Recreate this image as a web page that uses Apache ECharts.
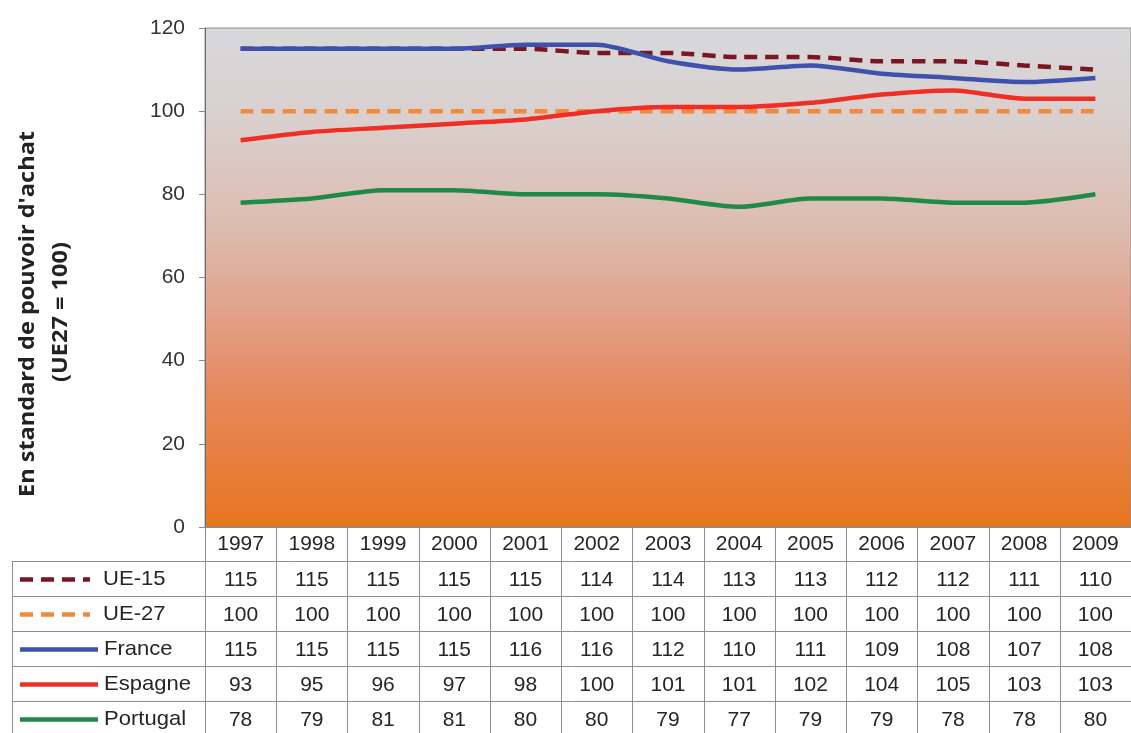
<!DOCTYPE html>
<html>
<head>
<meta charset="utf-8">
<script src="https://cdn.jsdelivr.net/npm/echarts@6/dist/echarts.min.js"></script>
<style>
  html, body { margin: 0; padding: 0; background: #ffffff; }
  #chart { width: 1131px; height: 733px; }
</style>
</head>
<body>
<div id="chart"></div>
<script>
// PIB par habitant en SPA (UE27 = 100)
const years    = ['1997','1998','1999','2000','2001','2002','2003','2004','2005','2006','2007','2008','2009'];
const ue15     = [115,115,115,115,115,114,114,113,113,112,112,111,110];
const ue27     = [100,100,100,100,100,100,100,100,100,100,100,100,100];
const france   = [115,115,115,115,116,116,112,110,111,109,108,107,108];
const espagne  = [93,95,96,97,98,100,101,101,102,104,105,103,103];
const portugal = [78,79,81,81,80,80,79,77,79,79,78,78,80];
const yTicks   = { min: 0, max: 120, interval: 20 };

const seriesDefs = [
  { name: 'UE-15',    data: ue15,     color: '#7c1522', dashed: true },
  { name: 'UE-27',    data: ue27,     color: '#f28a3a', dashed: true },
  { name: 'France',   data: france,   color: '#3e51ad', dashed: false },
  { name: 'Espagne',  data: espagne,  color: '#ee2f26', dashed: false },
  { name: 'Portugal', data: portugal, color: '#1f8a47', dashed: false }
];

const FONT = '"Liberation Sans", Arial, sans-serif';
const FS = 21;
const GRID = { left: 205, top: 28, width: 931, height: 499 };
const ROW_H = 35;
const TABLE_LEFT = 12;

const chart = echarts.init(document.getElementById('chart'), null, { renderer: 'canvas' });

// one x axis for the year header, then one per table row (offset downwards)
const xAxes = [{
  type: 'category',
  data: years,
  boundaryGap: true,
  position: 'bottom',
  axisLine: { show: true, lineStyle: { color: '#8a8a8a', width: 1 } },
  axisTick: { show: false },
  axisLabel: { margin: 7, fontFamily: FONT, fontSize: FS, color: '#262626' }
}];
seriesDefs.forEach((s, k) => {
  xAxes.push({
    type: 'category',
    data: years,
    boundaryGap: true,
    position: 'bottom',
    offset: ROW_H * (k + 1),
    axisLine: { show: false },
    axisTick: { show: false },
    axisLabel: {
      margin: 8, fontFamily: FONT, fontSize: FS, color: '#262626',
      formatter: (v, idx) => String(s.data[idx])
    }
  });
});

const option = {
  animation: false,
  backgroundColor: '#ffffff',
  grid: {
    left: GRID.left, top: GRID.top, width: GRID.width, height: GRID.height,
    show: true,
    borderColor: '#8f8f8f',
    borderWidth: 1,
    backgroundColor: new echarts.graphic.LinearGradient(0, 0, 0, 1, [
      { offset: 0.00, color: '#d7d8db' },
      { offset: 0.18, color: '#d9d0ce' },
      { offset: 0.40, color: '#ddbcb0' },
      { offset: 0.55, color: '#e1a48e' },
      { offset: 0.72, color: '#e58a60' },
      { offset: 0.86, color: '#e77f3f' },
      { offset: 1.00, color: '#e8761d' }
    ])
  },
  xAxis: xAxes,
  yAxis: {
    type: 'value',
    min: yTicks.min, max: yTicks.max, interval: yTicks.interval,
    axisLine: { show: true, lineStyle: { color: '#6e6e6e', width: 1 } },
    axisTick: { show: true, length: 6, lineStyle: { color: '#8a8a8a' } },
    splitLine: { show: false },
    axisLabel: { margin: 20, fontFamily: FONT, fontSize: FS, color: '#333' }
  },
  series: seriesDefs.map(s => ({
    name: s.name,
    type: 'line',
    xAxisIndex: 0,
    data: s.data,
    smooth: 0.25,
    symbol: 'none',
    lineStyle: { color: s.color, width: 4.5, type: s.dashed ? [13, 8] : 'solid' },
    z: 3
  }))
};

chart.setOption(option);

// data table: borders, legend keys and axis title
function buildTable() {
  const c0 = chart.convertToPixel({ xAxisIndex: 0 }, 0);
  const c1 = chart.convertToPixel({ xAxisIndex: 0 }, 1);
  const step = c1 - c0;
  const left = c0 - step / 2;
  const right = left + step * years.length;
  const top = GRID.top + GRID.height;
  const headerBottom = top + ROW_H - 1;
  const bottom = 733 + 5;
  const els = [];
  const lineStyle = { stroke: '#8f8f8f', lineWidth: 1 };

  els.push({ type: 'rect', silent: true, z: 0,
    shape: { x: TABLE_LEFT, y: headerBottom, width: right - TABLE_LEFT, height: bottom - headerBottom },
    style: { fill: '#ffffff' } });

  for (let i = 0; i <= years.length; i++) {
    const x = Math.round(left + i * step) + 0.5;
    els.push({ type: 'line', silent: true, z: 10, shape: { x1: x, y1: top, x2: x, y2: bottom }, style: lineStyle });
  }
  els.push({ type: 'line', silent: true, z: 10,
    shape: { x1: TABLE_LEFT + 0.5, y1: headerBottom, x2: TABLE_LEFT + 0.5, y2: bottom }, style: lineStyle });
  for (let r = 0; r < seriesDefs.length; r++) {
    const y = Math.round(headerBottom + r * ROW_H) + 0.5;
    els.push({ type: 'line', silent: true, z: 10, shape: { x1: TABLE_LEFT, y1: y, x2: right, y2: y }, style: lineStyle });
  }

  seriesDefs.forEach((s, k) => {
    const cy = headerBottom + k * ROW_H + ROW_H / 2 + 1;
    const x2 = s.dashed ? 90 : 98;
    els.push({ type: 'line', silent: true, z: 11,
      shape: { x1: 20, y1: cy, x2: x2, y2: cy },
      style: { stroke: s.color, lineWidth: 4.5, lineDash: s.dashed ? [13, 8] : null } });
    els.push({ type: 'text', silent: true, z: 11,
      x: s.dashed ? 103 : 104, y: cy, scaleX: 1.05,
      style: { text: s.name, fontFamily: FONT, fontSize: FS, fill: '#262626',
               verticalAlign: 'middle', align: 'left' } });
  });

  const titleFont = '"Open Sans", "DejaVu Sans", sans-serif';
  els.push({ type: 'text', silent: true, z: 11, x: 28, y: 314, rotation: Math.PI / 2, scaleX: 1.12,
    style: { text: "En standard de pouvoir d'achat", fontFamily: titleFont, fontWeight: 'bold',
             fontSize: 21, fill: '#222', align: 'center', verticalAlign: 'middle' } });
  els.push({ type: 'text', silent: true, z: 11, x: 61, y: 312, rotation: Math.PI / 2, scaleX: 1.12,
    style: { text: '(UE27 = 100)', fontFamily: titleFont, fontWeight: 'bold',
             fontSize: 21, fill: '#222', align: 'center', verticalAlign: 'middle' } });

  chart.setOption({ graphic: { elements: els } });
}
buildTable();
</script>
</body>
</html>
